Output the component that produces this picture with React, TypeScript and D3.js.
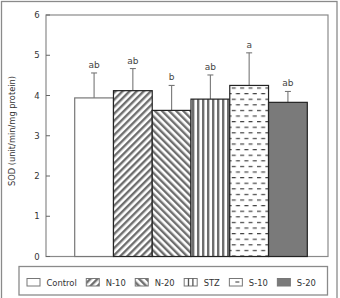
import React, { useEffect, useRef } from "react";
import * as d3 from "d3";

const categories = ["Control", "N-10", "N-20", "STZ", "S-10", "S-20"];
const means = [3.94, 4.12, 3.63, 3.91, 4.25, 3.83];
const errors = [0.62, 0.55, 0.62, 0.6, 0.81, 0.27];
const letters = ["ab", "ab", "b", "ab", "a", "ab"];
const yTicks = [0, 1, 2, 3, 4, 5, 6];
const fills = ["#ffffff", "url(#pN10)", "url(#pN20)", "url(#pSTZ)", "url(#pS10)", "#7a7a7a"];

const W = 340, H = 298;
const FONT = "'DejaVu Sans', Verdana, sans-serif";

export default function App() {
  const ref = useRef<SVGSVGElement>(null);
  useEffect(() => {
    const svg = d3.select(ref.current!);
    svg.selectAll("*").remove();
    const defs = svg.append("defs");
    const stripe = (id: string, rot: number, period: number, w: number) => {
      const p = defs.append("pattern").attr("id", id).attr("patternUnits", "userSpaceOnUse")
        .attr("width", period).attr("height", period).attr("patternTransform", `rotate(${rot})`);
      p.append("rect").attr("width", period).attr("height", period).attr("fill", "#fff");
      p.append("rect").attr("x", 0).attr("width", w).attr("height", period).attr("fill", "#6e6e6e");
    };
    stripe("pN10", 45, 5, 2.4);
    stripe("pN20", -45, 5, 2.4);
    const x = d3.scaleBand().domain(categories).range([74.7, 307.3]).padding(0);
    const y = d3.scaleLinear().domain([0, 6]).range([256.5, 15]);
    {
      const p = defs.append("pattern").attr("id", "pSTZ").attr("patternUnits", "userSpaceOnUse")
        .attr("width", 5).attr("height", 5).attr("x", x("STZ")! + 1);
      p.append("rect").attr("width", 5).attr("height", 5).attr("fill", "#fff");
      p.append("rect").attr("x", 0).attr("width", 2.4).attr("height", 5).attr("fill", "#6e6e6e");
    }
    {
      const p = defs.append("pattern").attr("id", "pS10").attr("patternUnits", "userSpaceOnUse")
        .attr("width", 8.4).attr("height", 11.2).attr("x", x("S-10")! + 2).attr("y", y(4.25) + 2);
      p.append("rect").attr("width", 8.4).attr("height", 11.2).attr("fill", "#fff");
      p.append("rect").attr("x", 0).attr("y", 0).attr("width", 4).attr("height", 1.2).attr("fill", "#444");
      p.append("rect").attr("x", 4.2).attr("y", 5.6).attr("width", 4).attr("height", 1.2).attr("fill", "#444");
    }

    // outer frame
    svg.append("rect").attr("x", 1.5).attr("y", 1.5).attr("width", 335.5).attr("height", 310)
      .attr("fill", "none").attr("stroke", "#8a8a8a").attr("stroke-width", 1.3);

    // plot frame
    svg.append("rect").attr("x", 46).attr("y", 15).attr("width", 282).attr("height", 241.5)
      .attr("fill", "none").attr("stroke", "#8a8a8a").attr("stroke-width", 1.2);

    // ticks
    const tg = svg.append("g");
    tg.selectAll("line").data(yTicks).join("line")
      .attr("x1", 46).attr("x2", 50).attr("y1", d => y(d)).attr("y2", d => y(d))
      .attr("stroke", "#666").attr("stroke-width", 1);
    tg.selectAll("text").data(yTicks).join("text")
      .attr("x", 37).attr("y", d => y(d) + 3).attr("text-anchor", "middle")
      .attr("font-family", FONT).attr("font-size", 8.5).attr("fill", "#333").text(d => d);

    // y title
    svg.append("text").attr("transform", `translate(15,131) rotate(-90)`).attr("text-anchor", "middle")
      .attr("font-family", FONT).attr("font-size", 8.3).attr("fill", "#333")
      .text("SOD (unit/min/mg protein)");

    // error bars
    const eg = svg.append("g");
    categories.forEach((c, i) => {
      const cx = x(c)! + x.bandwidth() / 2;
      eg.append("line").attr("x1", cx).attr("x2", cx).attr("y1", y(means[i])).attr("y2", y(means[i] + errors[i]))
        .attr("stroke", "#777").attr("stroke-width", 1.1);
      eg.append("line").attr("x1", cx - 3).attr("x2", cx + 3).attr("y1", y(means[i] + errors[i])).attr("y2", y(means[i] + errors[i]))
        .attr("stroke", "#777").attr("stroke-width", 1.1);
      eg.append("text").attr("x", cx).attr("y", y(means[i] + errors[i]) - 5).attr("text-anchor", "middle")
        .attr("font-family", FONT).attr("font-size", 9).attr("fill", "#444").text(letters[i]);
    });

    // bars
    svg.append("g").selectAll("rect").data(categories).join("rect")
      .attr("x", d => x(d)!).attr("width", x.bandwidth())
      .attr("y", (d, i) => y(means[i])).attr("height", (d, i) => y(0) - y(means[i]))
      .attr("fill", (d, i) => fills[i])
      .attr("stroke", (d, i) => (i === 0 ? "#777" : "#222")).attr("stroke-width", 1.2);

    // legend
    svg.append("rect").attr("x", 19).attr("y", 266.5).attr("width", 308.5).attr("height", 28.5)
      .attr("fill", "none").attr("stroke", "#8a8a8a").attr("stroke-width", 1.3);
    const lg = svg.append("g");
    let lx = 27;
    categories.forEach((c, i) => {
      const sw = lg.append("g");
      sw.append("rect").attr("x", lx).attr("y", 278.5).attr("width", 13).attr("height", 7.5)
        .attr("fill", c === "S-10" || c === "STZ" ? "#fff" : fills[i]).attr("stroke", "#777").attr("stroke-width", 1);
      if (c === "STZ") {
        [lx + 4.3, lx + 8.7].forEach(v => sw.append("line").attr("x1", v).attr("x2", v).attr("y1", 278.5).attr("y2", 286)
          .attr("stroke", "#555").attr("stroke-width", 1.3));
      }
      if (c === "S-10") {
        sw.append("line").attr("x1", lx + 6).attr("x2", lx + 10).attr("y1", 282).attr("y2", 282)
          .attr("stroke", "#555").attr("stroke-width", 1.2);
      }
      const t = lg.append("text").attr("x", lx + 19.5).attr("y", 285.5)
        .attr("font-family", FONT).attr("font-size", 8.4).attr("fill", "#333").text(c);
      const tw = (t.node() as SVGTextElement).getComputedTextLength();
      lx = lx + 19.5 + tw + 9.5;
    });
  }, []);
  return (
    <svg ref={ref} width={W} height={H} style={{ position: "absolute", left: 0, top: 0, background: "#fff" }} />
  );
}
